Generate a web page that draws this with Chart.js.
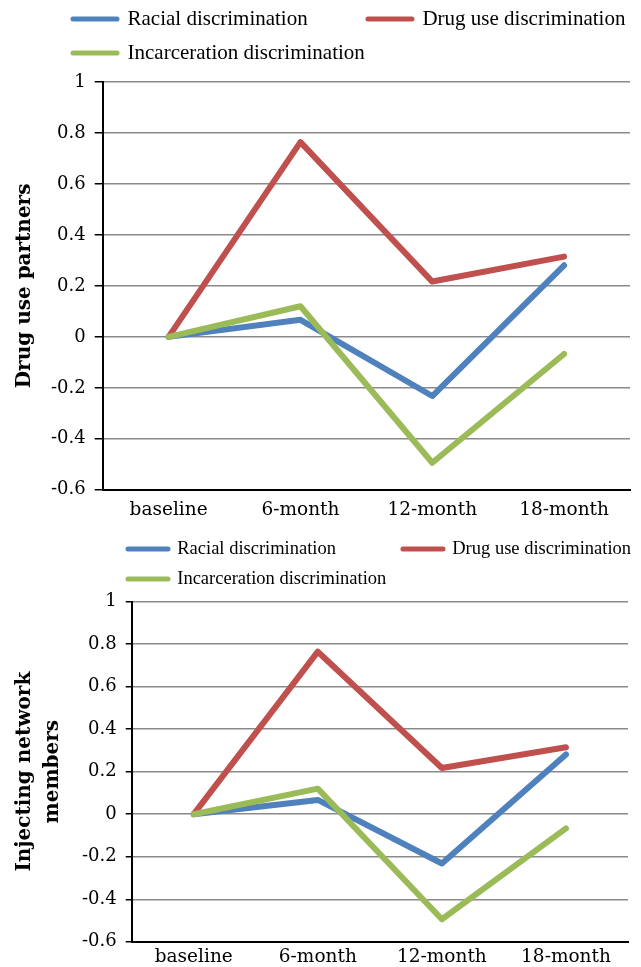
<!DOCTYPE html>
<html>
<head>
<meta charset="utf-8">
<script src="https://cdn.jsdelivr.net/npm/chart.js@4.4.1/dist/chart.umd.min.js"></script>
<style>
html,body{margin:0;padding:0;background:#fff;overflow:hidden;width:641px;height:967px}
.box{position:absolute;left:0;width:641px}
#b1{top:0;height:530px}
#b2{top:526px;height:446px}
</style>
</head>
<body>
<div class="box" id="b1"><canvas id="c1"></canvas></div>
<div class="box" id="b2"><canvas id="c2"></canvas></div>
<script>
const labels = ['baseline', '6-month', '12-month', '18-month'];
const racial = [0, 0.067, -0.232, 0.281];
const drugUse = [0, 0.764, 0.217, 0.315];
const incarceration = [0, 0.12, -0.494, -0.067];
const yTicks = [-0.6, -0.4, -0.2, 0, 0.2, 0.4, 0.6, 0.8, 1];
const seriesNames = ['Racial discrimination', 'Drug use discrimination', 'Incarceration discrimination'];
const seriesColors = ['#4f81bd', '#c0504d', '#9bbb59'];

// moves the legend block (Excel puts it left-ish, not at the canvas edge)
const legendShift = {
  id: 'legendShift',
  afterLayout(chart, args, o) {
    const lg = chart.legend;
    lg.left += o.dx; lg.right += o.dx;
    lg.top += o.dy; lg.bottom += o.dy;
  }
};

function makeChart(id, c) {
  return new Chart(document.getElementById(id), {
    type: 'line',
    data: {
      labels: labels,
      datasets: [racial, drugUse, incarceration].map((d, i) => ({
        label: seriesNames[i],
        data: d,
        borderColor: seriesColors[i],
        backgroundColor: seriesColors[i],
        borderWidth: 6,
        pointRadius: 0,
        pointHoverRadius: 0,
        borderJoinStyle: 'round',
        borderCapStyle: 'round',
        tension: 0,
        order: 3 - i
      }))
    },
    options: {
      responsive: true,
      maintainAspectRatio: false,
      animation: false,
      layout: {padding: {top: c.padTop, right: c.padRight, left: 0, bottom: 0}},
      plugins: {
        legend: {
          position: 'top',
          align: 'start',
          labels: {
            usePointStyle: true,
            pointStyle: 'line',
            pointStyleWidth: c.boxW,
            padding: c.legPad,
            color: '#000',
            font: {family: 'Liberation Serif', size: c.legSize, lineHeight: 1},
            generateLabels(chart) {
              const items = Chart.defaults.plugins.legend.labels.generateLabels(chart);
              items.sort((a, b) => a.datasetIndex - b.datasetIndex);
              items.forEach(it => {
                it.lineCap = 'round';
                it.lineWidth = 5;
                it.pointStyle = 'line';
                if (it.datasetIndex === 0) it.text += ' '.repeat(c.gap);
              });
              return items;
            }
          }
        },
        legendShift: {dx: c.dx, dy: c.dy},
        tooltip: {enabled: false}
      },
      scales: {
        x: {
          offset: true,
          grid: {display: false, drawTicks: false},
          border: {display: true, color: '#000', width: 2},
          ticks: {color: '#000', padding: c.xPad, maxRotation: 0, autoSkip: false,
            font: {family: 'DejaVu Serif', size: 18.5}}
        },
        y: {
          min: -0.6,
          max: 1,
          afterBuildTicks(s) { s.ticks = yTicks.map(v => ({value: v})); },
          ticks: {color: '#000', padding: 9, font: {family: 'DejaVu Serif', size: 18},
            callback: v => String(Math.round(v * 10) / 10)},
          grid: {color: '#8a8a8a', lineWidth: 1.5, tickColor: '#000', tickLength: c.tickLen, tickWidth: 1.5},
          border: {color: '#000', width: 2},
          title: {display: true, text: c.title, color: '#000',
            font: {family: 'DejaVu Serif', size: 20, weight: 'bold', lineHeight: c.titleLH},
            padding: {top: c.tpTop, bottom: c.tpBot}}
        }
      }
    },
    plugins: [legendShift]
  });
}

makeChart('c1', {padTop: 4, padRight: 11, boxW: 44, legSize: 21, legPad: 13, gap: 9, dx: 60, dy: -8.5,
  xPad: 9, tickLen: 8, title: 'Drug use partners', titleLH: 1.2, tpTop: 13, tpBot: 5});
makeChart('c2', {padTop: 5.5, padRight: 13, boxW: 40, legSize: 18.5, legPad: 11.5, gap: 12, dx: 116.5, dy: -3.25,
  xPad: 4, tickLen: 6, title: ['Injecting network', 'members'], titleLH: 1.4, tpTop: 11, tpBot: 6});
</script>
</body>
</html>
